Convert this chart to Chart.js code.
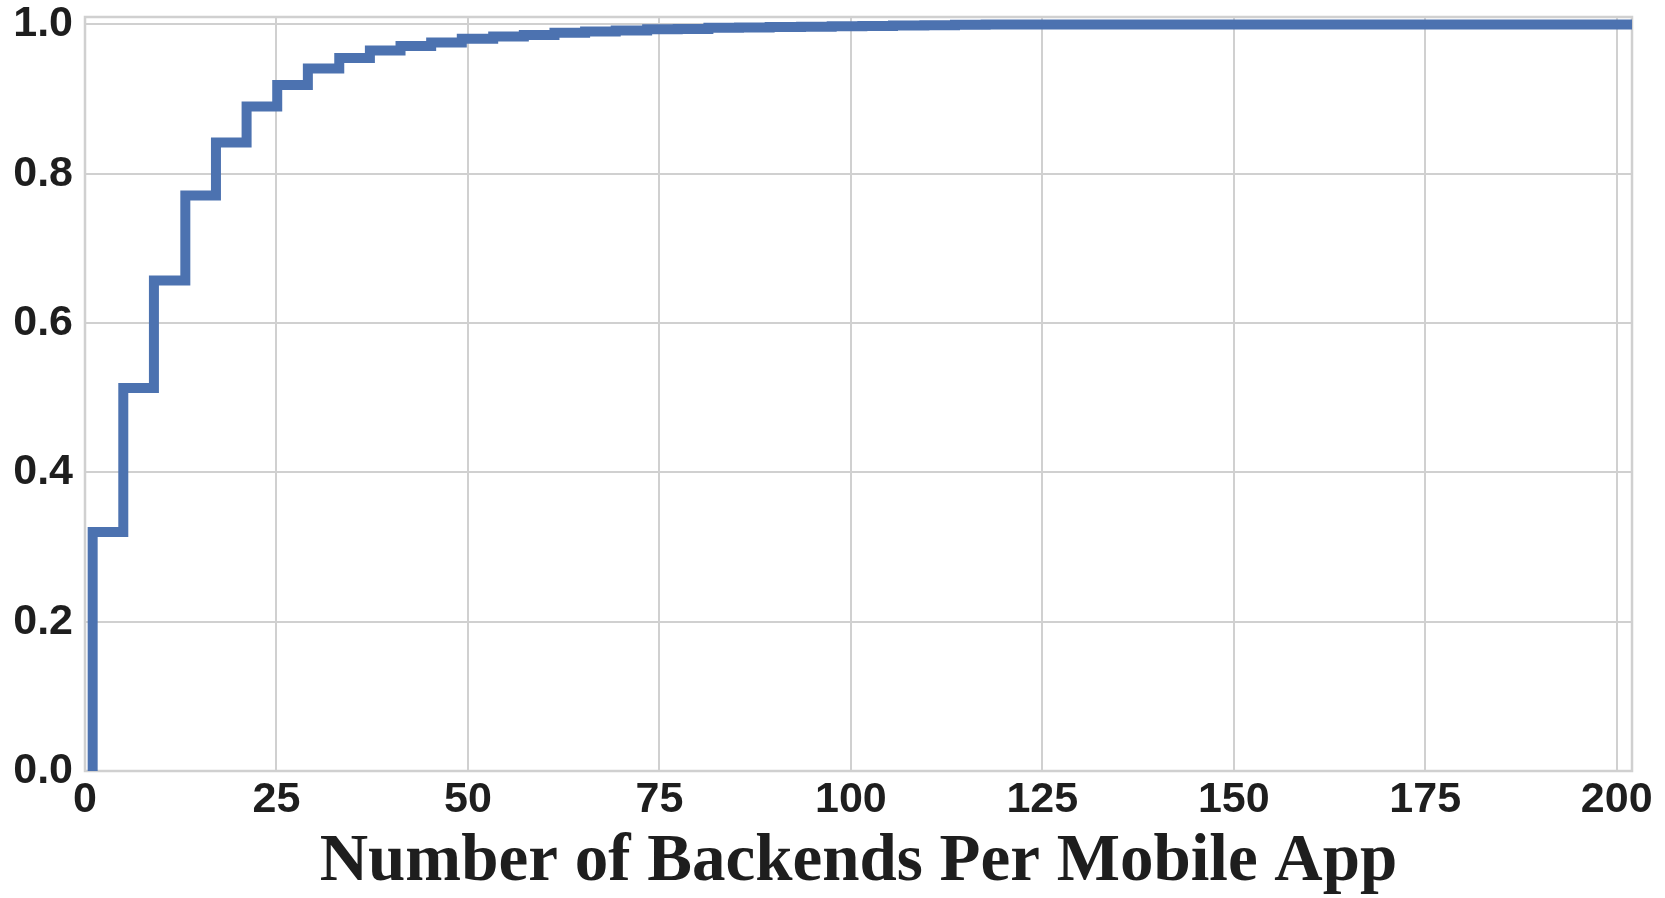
<!DOCTYPE html>
<html>
<head>
<meta charset="utf-8">
<script src="https://cdn.jsdelivr.net/npm/chart.js@4"></script>
<style>
  html, body { margin: 0; padding: 0; background: #ffffff; }
  #wrap { width: 1665px; height: 898px; }
</style>
</head>
<body>
<div id="wrap"><canvas id="cdf" width="1665" height="898"></canvas></div>
<script>
// Cumulative share of apps by number of backends (step edges and CDF level at each edge)
const backendCounts = [1, 1, 5.0, 9.0, 13.1, 17.1, 21.1, 25.1, 29.1, 33.2, 37.2, 41.2, 45.2, 49.2,
  53.3, 57.3, 61.3, 65.3, 69.3, 73.4, 77.4, 81.4, 85.4, 89.4, 93.5, 97.5, 101.5, 105.5, 109.6,
  113.6, 117.6, 202];
const cdfValues = [0, 0.320, 0.513, 0.657, 0.771, 0.842, 0.890, 0.919, 0.941, 0.955, 0.965, 0.971,
  0.976, 0.981, 0.984, 0.986, 0.989, 0.9905, 0.992, 0.9935, 0.994, 0.9955, 0.996, 0.9965, 0.997,
  0.9975, 0.998, 0.9985, 0.999, 0.9995, 1.0, 1.0];

const xTicks = [0, 25, 50, 75, 100, 125, 150, 175, 200];
const xTickLabels = ['0', '25', '50', '75', '100', '125', '150', '175', '200'];
const yTicks = [0, 0.2, 0.4, 0.6, 0.8, 1.0];
const yTickLabels = ['0.0', '0.2', '0.4', '0.6', '0.8', '1.0'];
const xTitle = 'Number of Backends Per Mobile App';

const gridColor = '#d0d0d0';
const textColor = '#1e1e1e';

const points = backendCounts.map((x, i) => ({ x: x, y: cdfValues[i] }));

// Frame on all four sides of the plotting area
const framePlugin = {
  id: 'frame',
  beforeDatasetsDraw(chart) {
    const a = chart.chartArea, ctx = chart.ctx;
    ctx.save();
    ctx.strokeStyle = gridColor;
    ctx.lineWidth = 2.5;
    ctx.strokeRect(a.left, a.top, a.right - a.left, a.bottom - a.top);
    ctx.restore();
  }
};

new Chart(document.getElementById('cdf'), {
  type: 'line',
  data: {
    datasets: [{
      data: points,
      borderColor: '#4c72b0',
      borderWidth: 10,
      stepped: 'before',
      fill: false,
      tension: 0,
      pointRadius: 0,
      pointHoverRadius: 0,
      borderJoinStyle: 'miter',
      borderCapStyle: 'butt',
      clip: 0
    }]
  },
  options: {
    responsive: false,
    animation: false,
    devicePixelRatio: 1,
    layout: { padding: { top: 17, right: 33, bottom: 0, left: 0 } },
    plugins: {
      legend: { display: false },
      tooltip: { enabled: false }
    },
    scales: {
      x: {
        type: 'linear',
        min: 0,
        max: 202,
        afterBuildTicks(scale) { scale.ticks = xTicks.map(v => ({ value: v })); },
        afterFit(scale) {
          scale.height = 127;
          scale.paddingLeft = 0; scale.paddingRight = 0;
        },
        ticks: {
          callback: (v) => xTickLabels[xTicks.indexOf(v)] ?? '',
          color: textColor,
          font: { family: 'Liberation Sans', size: 43, weight: 'bold' },
          padding: 3,
          maxRotation: 0,
          autoSkip: false
        },
        grid: { color: gridColor, lineWidth: 2, drawTicks: false },
        border: { display: false },
        title: {
          display: true,
          text: xTitle,
          color: textColor,
          font: { family: 'Liberation Serif', size: 67, weight: 'bold', lineHeight: 1.0 },
          padding: { top: 0, bottom: 2 }
        }
      },
      y: {
        type: 'linear',
        min: 0,
        max: 1.01,
        afterBuildTicks(scale) { scale.ticks = yTicks.map(v => ({ value: v })); },
        afterFit(scale) {
          scale.width = 85;
          scale.paddingTop = 0; scale.paddingBottom = 0;
        },
        ticks: {
          callback: (v) => yTickLabels[yTicks.indexOf(v)] ?? '',
          color: textColor,
          font: { family: 'Liberation Sans', size: 43, weight: 'bold' },
          padding: 12,
          autoSkip: false
        },
        grid: { color: gridColor, lineWidth: 2, drawTicks: false },
        border: { display: false }
      }
    }
  },
  plugins: [framePlugin]
});
</script>
</body>
</html>
